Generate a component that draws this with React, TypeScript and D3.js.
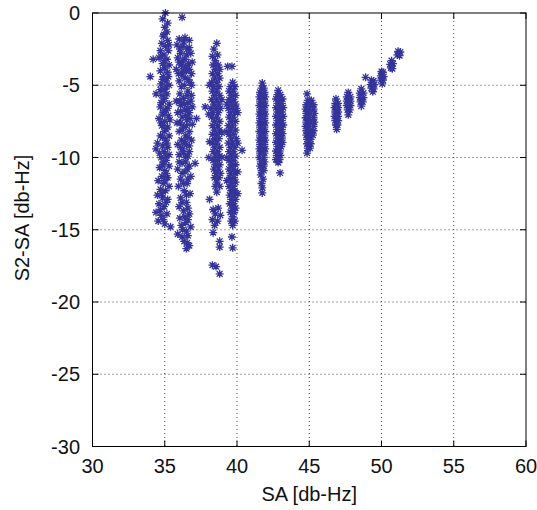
import React from "react";
import * as d3 from "d3";

const xTicks = [30, 35, 40, 45, 50, 55, 60];
const yTicks = [-30, -25, -20, -15, -10, -5, 0];
const xLabel = "SA [db-Hz]";
const yLabel = "S2-SA [db-Hz]";

type P = [number, number];

const clusterA: P[] = [
  [35.05, 0.0], [34.85, -0.4], [35.0, -1.0], [35.15, -1.3], [34.9, -1.6], [35.2, -1.9], [34.8, -2.1], [35.05, -2.3],
  [34.7, -2.6], [35.25, -2.6], [34.95, -2.9], [34.6, -3.1], [35.15, -3.2], [34.2, -3.2], [34.85, -3.5], [35.3, -3.6],
  [35.0, -3.8], [34.7, -4.0], [35.2, -4.1], [34.0, -4.4], [34.9, -4.4], [35.1, -4.7], [34.75, -4.9], [35.3, -5.0],
  [34.95, -5.3], [34.4, -5.6], [34.8, -5.7], [35.15, -5.6], [34.9, -6.1], [35.3, -6.3], [34.7, -6.5], [35.05, -6.7],
  [34.85, -7.0], [35.25, -7.1], [34.6, -7.3], [35.0, -7.5], [34.8, -7.8], [35.2, -7.9], [34.95, -8.2], [34.7, -8.5],
  [35.3, -8.5], [35.05, -8.8], [34.5, -9.0], [34.85, -9.2], [35.2, -9.3], [34.4, -9.4], [34.95, -9.6], [35.3, -9.8],
  [34.75, -10.0], [35.1, -10.2], [34.85, -10.5], [35.0, -10.9], [34.8, -11.3], [35.2, -11.4], [34.9, -11.8],
  [34.7, -12.2], [35.05, -12.3], [34.5, -12.6], [34.85, -12.8], [35.2, -12.9], [34.6, -13.2], [34.95, -13.4],
  [34.4, -13.8], [34.75, -14.0], [34.55, -14.4], [35.0, -14.6], [35.4, -14.8],
  [35.2, -0.7], [34.95, -1.5], [35.3, -2.2], [34.75, -3.0], [35.0, -3.3], [35.25, -4.4], [34.85, -4.6], [35.1, -5.1],
  [34.7, -5.3], [35.0, -5.9], [34.75, -6.2], [35.2, -6.6], [34.9, -6.9], [35.35, -7.4], [34.75, -7.6], [35.1, -8.0],
  [34.85, -8.6], [35.15, -9.0], [34.65, -9.7], [35.1, -9.9], [34.9, -10.3], [35.3, -10.6], [34.65, -10.7],
  [35.1, -11.1], [34.55, -11.6], [35.0, -11.6], [35.3, -12.0], [34.8, -12.5], [35.1, -13.1], [34.7, -13.6],
  [35.15, -13.9], [34.9, -14.3],
];

const clusterB: P[] = [
  [36.2, -0.3], [36.0, -1.8], [36.4, -1.7], [36.7, -1.9], [35.85, -2.2], [36.25, -2.3], [36.55, -2.5], [36.1, -2.8],
  [36.8, -2.8], [35.9, -3.1], [36.4, -3.2], [36.65, -3.5], [36.15, -3.6], [35.8, -3.9], [36.5, -4.0], [36.85, -4.2],
  [36.2, -4.3], [36.6, -4.6], [36.0, -4.7], [36.85, -5.0], [36.35, -5.0], [36.6, -5.4], [36.05, -5.6], [36.85, -5.7],
  [36.3, -5.9], [35.8, -6.1], [36.6, -6.2], [36.1, -6.4], [36.9, -6.5], [36.4, -6.7], [35.9, -6.9], [36.7, -6.9],
  [36.2, -7.2], [37.2, -7.3], [36.55, -7.4], [35.85, -7.6], [36.9, -7.7], [36.3, -7.9], [36.0, -8.2], [36.7, -8.2],
  [36.45, -8.5], [36.15, -8.8], [36.85, -8.8], [35.9, -9.1], [36.5, -9.1], [36.25, -9.4], [36.7, -9.6], [36.0, -9.8],
  [36.45, -10.0], [37.1, -10.4], [36.2, -10.4], [36.7, -10.6], [35.9, -10.8], [36.4, -11.0], [36.8, -11.3],
  [36.1, -11.5], [36.55, -11.8], [35.95, -12.0], [36.35, -12.3], [36.75, -12.5], [36.1, -12.8], [36.5, -13.1],
  [36.0, -13.4], [36.3, -13.7], [36.7, -13.9], [36.05, -14.2], [36.45, -14.5], [36.8, -14.8], [36.25, -15.0],
  [35.9, -15.3], [36.6, -15.4], [36.35, -15.8], [36.7, -16.1], [36.5, -16.3],
  [36.3, -2.0], [36.05, -2.5], [36.7, -2.4], [36.5, -2.9], [36.25, -3.3], [36.9, -3.4], [36.0, -3.4], [36.45, -3.7],
  [36.7, -3.9], [36.25, -4.0], [35.95, -4.2], [36.4, -4.5], [36.75, -4.8], [36.15, -5.1], [36.55, -5.7], [36.05, -6.1],
  [36.35, -6.3], [36.8, -6.1], [36.6, -6.6], [36.1, -6.8], [36.45, -7.1], [36.75, -7.3], [36.1, -7.6], [36.5, -7.8],
  [36.2, -8.1], [36.6, -8.6], [36.35, -8.9], [36.7, -9.2], [36.1, -9.3], [36.3, -9.7], [36.6, -9.9], [36.45, -10.3],
  [36.0, -10.3], [36.55, -10.8], [36.2, -11.1], [36.6, -11.5], [36.3, -11.8], [36.5, -12.6], [36.2, -13.1],
  [36.6, -13.5], [36.4, -14.1], [36.6, -14.3], [36.15, -14.7], [36.5, -15.1], [36.2, -15.5], [36.55, -15.9],
];

const clusterC: P[] = [
  [38.6, -2.1], [38.4, -2.5], [38.3, -3.0], [38.65, -2.9], [39.35, -3.7], [39.65, -3.7],
  [38.5, -3.3], [38.35, -3.6], [38.7, -3.6], [38.5, -3.9], [38.8, -3.9], [38.3, -4.2], [38.65, -4.2],
  [38.45, -4.5], [38.8, -4.5], [38.25, -4.8], [38.6, -4.8], [38.4, -5.1], [38.75, -5.1], [38.3, -5.4],
  [38.6, -5.4], [38.45, -5.7], [38.8, -5.7], [38.25, -6.0], [38.6, -6.0], [38.4, -6.3], [38.75, -6.3],
  [38.2, -6.6], [38.55, -6.6], [38.85, -6.6], [37.8, -6.5], [38.35, -6.9], [38.7, -6.9], [38.25, -7.2],
  [38.6, -7.2], [38.45, -7.5], [38.8, -7.5], [38.3, -7.8], [38.65, -7.8], [38.45, -8.1], [38.8, -8.1],
  [38.3, -8.4], [38.6, -8.4], [38.45, -8.7], [38.75, -8.7], [38.3, -9.0], [38.6, -9.0], [38.45, -9.3],
  [38.8, -9.3], [38.35, -9.6], [38.65, -9.6], [38.5, -9.9], [38.8, -9.9], [38.35, -10.2], [38.65, -10.2],
  [38.5, -10.5], [38.8, -10.5], [38.4, -10.8], [38.7, -10.8], [38.55, -11.1], [38.85, -11.1], [38.45, -11.4],
  [38.75, -11.4], [38.6, -11.7], [38.5, -12.0], [38.8, -12.0],
  [38.1, -5.0], [38.05, -7.0], [38.1, -8.9], [38.05, -10.0], [38.95, -6.0], [38.95, -8.3], [38.95, -10.0],
  [38.6, -12.4], [38.1, -12.9], [38.35, -13.6], [38.7, -13.5], [38.5, -13.9], [38.85, -14.0], [38.3, -14.3],
  [38.65, -14.4], [38.45, -14.7], [38.35, -15.2], [38.8, -15.8], [38.8, -16.2], [38.3, -17.45], [38.55, -17.55],
  [38.8, -18.05],
];

const clusterD: P[] = [
  [39.7, -4.8], [39.55, -5.1], [39.85, -5.1], [39.45, -5.4], [39.75, -5.4], [39.6, -5.7], [39.9, -5.7],
  [39.45, -6.0], [39.75, -6.0], [39.6, -6.3], [39.9, -6.3], [39.4, -6.6], [39.7, -6.6], [39.95, -6.6],
  [39.55, -6.9], [39.85, -6.9], [39.45, -7.2], [39.75, -7.2], [39.6, -7.5], [39.9, -7.5], [39.4, -7.8],
  [39.7, -7.8], [39.55, -8.1], [39.9, -8.1], [39.45, -8.4], [39.75, -8.4], [39.6, -8.7], [39.95, -8.7],
  [39.4, -9.0], [39.7, -9.0], [39.55, -9.3], [39.85, -9.3], [39.45, -9.6], [39.75, -9.6], [39.6, -9.9],
  [39.9, -9.9], [39.45, -10.2], [39.75, -10.2], [39.6, -10.5], [39.9, -10.5], [39.45, -10.8], [39.75, -10.8],
  [39.55, -11.1], [39.85, -11.1], [39.5, -11.4], [39.8, -11.4], [39.6, -11.7], [39.9, -11.7], [39.45, -12.0],
  [39.75, -12.0], [39.6, -12.3], [39.85, -12.3], [39.5, -12.6], [39.8, -12.6], [39.6, -12.9], [39.9, -12.9],
  [39.5, -13.2], [39.75, -13.2], [39.65, -13.5], [39.9, -13.5], [39.55, -13.8], [39.8, -13.8], [39.7, -14.1],
  [39.6, -14.4], [39.85, -14.4], [39.7, -14.7], [40.35, -9.5], [39.65, -15.5], [39.7, -16.25],
  [39.3, -6.3], [39.3, -8.2], [39.3, -10.0], [39.3, -11.6], [40.05, -6.9], [40.05, -9.0], [40.05, -11.0],
  [40.05, -12.5],
];

const clusterE: P[] = [
  [41.75, -4.85], [41.7, -5.2], [41.85, -5.2], [41.6, -5.5], [41.9, -5.5], [41.55, -5.8], [41.8, -5.8],
  [41.95, -5.8], [41.6, -6.1], [41.9, -6.1], [41.55, -6.4], [41.75, -6.4], [41.95, -6.4], [41.6, -6.7],
  [41.9, -6.7], [41.55, -7.0], [41.75, -7.0], [41.95, -7.0], [41.6, -7.3], [41.9, -7.3], [41.55, -7.6],
  [41.75, -7.6], [41.95, -7.6], [41.6, -7.9], [41.9, -7.9], [41.55, -8.2], [41.75, -8.2], [41.95, -8.2],
  [41.6, -8.5], [41.9, -8.5], [41.55, -8.8], [41.75, -8.8], [41.95, -8.8], [41.6, -9.1], [41.9, -9.1],
  [41.55, -9.4], [41.75, -9.4], [41.95, -9.4], [41.6, -9.7], [41.9, -9.7], [41.55, -10.0], [41.85, -10.0],
  [41.65, -10.3], [41.9, -10.3], [41.6, -10.6], [41.85, -10.6], [41.7, -10.9], [41.85, -10.9], [41.65, -11.2],
  [41.8, -11.5], [41.7, -11.8], [41.75, -12.1], [41.75, -12.45],
];

const clusterF: P[] = [
  [42.85, -5.35], [42.8, -5.65], [43.0, -5.65], [42.7, -5.95], [42.95, -5.95], [43.15, -5.95], [42.8, -6.25],
  [43.1, -6.25], [42.7, -6.55], [42.95, -6.55], [43.2, -6.55], [42.8, -6.85], [43.1, -6.85], [42.7, -7.15],
  [42.95, -7.15], [43.2, -7.15], [42.8, -7.45], [43.1, -7.45], [42.7, -7.75], [42.95, -7.75], [43.2, -7.75],
  [42.8, -8.05], [43.1, -8.05], [42.7, -8.35], [42.95, -8.35], [43.15, -8.35], [42.8, -8.65], [43.1, -8.65],
  [42.7, -8.95], [42.95, -8.95], [43.15, -8.95], [42.8, -9.25], [43.05, -9.25], [42.7, -9.55], [42.95, -9.55],
  [42.75, -9.85], [43.0, -9.85], [42.7, -10.15], [42.95, -10.15], [42.85, -10.35], [42.98, -11.07],
];

const clusterG: P[] = [
  [44.85, -5.6], [44.9, -6.05], [45.15, -6.05], [44.8, -6.35], [45.05, -6.35], [45.3, -6.35], [44.75, -6.65],
  [45.0, -6.65], [45.3, -6.65], [44.8, -6.95], [45.05, -6.95], [45.35, -6.95], [44.75, -7.25], [45.0, -7.25],
  [45.3, -7.25], [44.8, -7.55], [45.05, -7.55], [45.35, -7.55], [44.75, -7.85], [45.0, -7.85], [45.3, -7.85],
  [44.8, -8.15], [45.05, -8.15], [45.3, -8.15], [44.8, -8.45], [45.0, -8.45], [45.25, -8.45], [44.85, -8.75],
  [45.1, -8.75], [44.85, -9.05], [45.1, -9.05], [44.9, -9.35], [45.05, -9.35], [44.85, -9.7],
];

const clusterH: P[] = [
  [46.85, -5.95], [46.8, -6.25], [47.0, -6.25], [46.75, -6.55], [47.0, -6.55], [46.8, -6.85], [47.0, -6.85],
  [46.75, -7.15], [47.0, -7.15], [46.8, -7.45], [47.0, -7.45], [46.85, -7.75], [46.95, -7.75], [46.9, -8.05],
];

const clusterI: P[] = [
  [47.7, -5.5], [47.6, -5.8], [47.85, -5.8], [47.6, -6.1], [47.85, -6.1], [47.6, -6.4], [47.85, -6.4],
  [47.65, -6.7], [47.8, -6.7], [47.7, -7.05],
];

const clusterJ: P[] = [
  [48.6, -5.25], [48.5, -5.55], [48.75, -5.55], [48.5, -5.85], [48.75, -5.85], [48.55, -6.15], [48.7, -6.15],
  [48.6, -6.45],
];

const clusterK: P[] = [
  [48.9, -4.45], [49.3, -4.65], [49.45, -4.7], [49.25, -4.95], [49.5, -4.95], [49.3, -5.2], [49.45, -5.25],
  [49.4, -5.45],
];

const clusterL: P[] = [
  [50.0, -4.05], [50.1, -4.1], [49.95, -4.35], [50.15, -4.4], [49.95, -4.65], [50.1, -4.65], [50.05, -4.9],
];

const clusterM: P[] = [
  [50.7, -3.3], [50.6, -3.55], [50.8, -3.5], [50.65, -3.8], [50.75, -3.85],
];

const clusterN: P[] = [
  [51.15, -2.65], [51.3, -2.7], [51.1, -2.9], [51.25, -2.95],
];

const allPoints: P[] = [
  ...clusterA, ...clusterB, ...clusterC, ...clusterD, ...clusterE, ...clusterF, ...clusterG,
  ...clusterH, ...clusterI, ...clusterJ, ...clusterK, ...clusterL, ...clusterM, ...clusterN,
];

export default function App() {
  const W = 537;
  const H = 510;
  const left = 92.5;
  const right = 526;
  const top = 13;
  const bottom = 446.5;
  const x = d3.scaleLinear().domain([30, 60]).range([left, right]);
  const y = d3.scaleLinear().domain([-30, 0]).range([bottom, top]);
  const color = "#333399";
  const star = "M-4,0H4M0,-4V4M-2.9,-2.9L2.9,2.9M-2.9,2.9L2.9,-2.9";
  const tickLen = 6;
  const font = "'Liberation Sans', Arial, Helvetica, sans-serif";
  const fs = 20;

  return (
    <svg
      width={W}
      height={H}
      style={{ position: "absolute", left: 0, top: 0, background: "#fff" }}
    >
      <rect x={0} y={0} width={W} height={H} fill="#fff" />
      {xTicks.slice(1, -1).map((t) => (
        <line key={"gx" + t} x1={x(t)} x2={x(t)} y1={top} y2={bottom}
          stroke="#444" strokeWidth={1} strokeDasharray="1,3" />
      ))}
      {yTicks.slice(1, -1).map((t) => (
        <line key={"gy" + t} x1={left} x2={right} y1={y(t)} y2={y(t)}
          stroke="#444" strokeWidth={1} strokeDasharray="1,3" />
      ))}
      {xTicks.map((t) => (
        <g key={"tx" + t}>
          <line x1={x(t)} x2={x(t)} y1={bottom} y2={bottom - tickLen} stroke="#000" />
          <line x1={x(t)} x2={x(t)} y1={top} y2={top + tickLen} stroke="#000" />
          <text x={x(t)} y={473} textAnchor="middle" fontFamily={font} fontSize={fs} fill="#111">{t}</text>
        </g>
      ))}
      {yTicks.map((t) => (
        <g key={"ty" + t}>
          <line x1={left} x2={left + tickLen} y1={y(t)} y2={y(t)} stroke="#000" />
          <line x1={right} x2={right - tickLen} y1={y(t)} y2={y(t)} stroke="#000" />
          <text x={80} y={y(t)} dy="0.35em" textAnchor="end" fontFamily={font} fontSize={fs} fill="#111">{t}</text>
        </g>
      ))}
      <g stroke={color} strokeWidth={1.3} fill="none">
        {allPoints.map((p, i) => (
          <path key={i} d={star} transform={`translate(${x(p[0])},${y(p[1])})`} />
        ))}
      </g>
      <rect x={left} y={top} width={right - left} height={bottom - top} fill="none" stroke="#000" strokeWidth={1} />
      <text x={(left + right) / 2} y={501} textAnchor="middle" fontFamily={font} fontSize={fs} fill="#111">{xLabel}</text>
      <text transform={`translate(29,218) rotate(-90)`} textAnchor="middle" fontFamily={font} fontSize={fs} fill="#111">{yLabel}</text>
    </svg>
  );
}
